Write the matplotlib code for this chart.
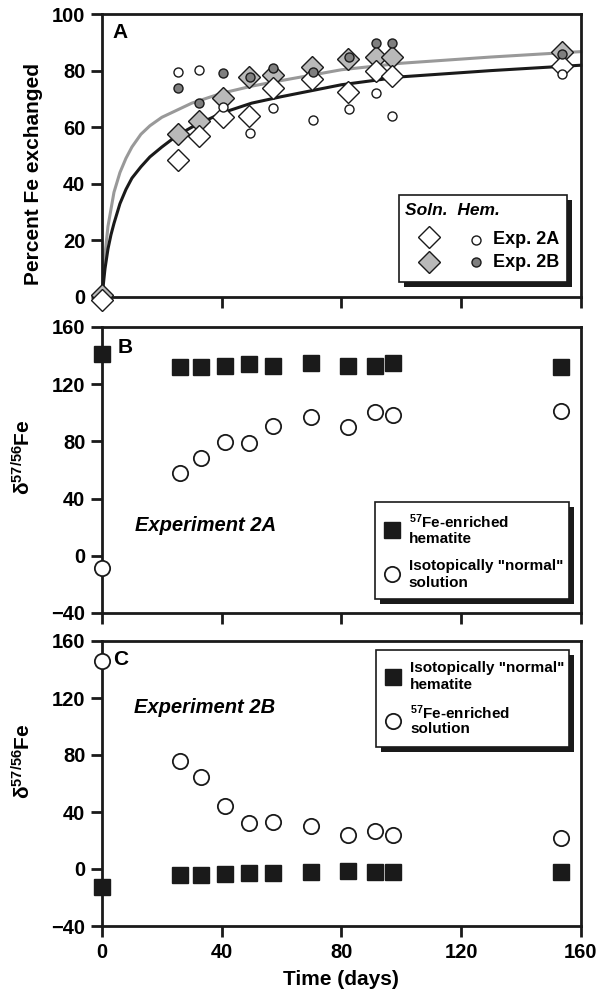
import matplotlib
matplotlib.use('Agg')
import matplotlib.pyplot as plt
from matplotlib.patches import Rectangle

plt.rcParams['font.family'] = ['Liberation Sans', 'DejaVu Sans']
plt.rcParams['font.weight'] = 'bold'
plt.rcParams['axes.labelweight'] = 'bold'
plt.rcParams['mathtext.fontset'] = 'custom'
plt.rcParams['mathtext.rm'] = 'Liberation Sans'
plt.rcParams['mathtext.bf'] = 'Liberation Sans:bold'
plt.rcParams['mathtext.it'] = 'Liberation Sans:bold:italic'
plt.rcParams['mathtext.default'] = 'bf'

# --- panel A: percent Fe exchanged ---
t_a = [0, 25.3, 32.5, 40.6, 49, 57.2, 70.2, 82.2, 91.4, 97, 153.8]
soln_2a = [-1, 48.5, 57, 63.7, 64, 73.7, 76.9, 72.6, 80, 78.1, 81.7]
soln_2b = [0.6, 57.6, 62.3, 70.4, 77.9, 78.5, 81.4, 84, 84.7, 84.7, 86.4]
t_hem = [25.3, 32.3, 40.6, 49.3, 57.2, 70.4, 82.5, 91.4, 97, 153.8]
hem_2a = [79.6, 80.2, 67.3, 57.8, 66.9, 62.5, 66.3, 72.2, 64, 78.8]
hem_2b = [74, 68.7, 79, 77.9, 81, 79.6, 84.7, 89.7, 89.9, 85.9]

# fitted curves
t_fit = [0, 1, 2, 3, 4, 6, 8, 10, 13, 16, 20, 25, 30, 40, 50, 60, 80, 100, 130, 160]
fit_2a = [0, 10, 17, 22, 26, 33, 38, 42, 46, 49.5, 53, 57, 60, 65, 68.5, 70.8, 75, 77.8, 80, 81.9]
fit_2b = [0, 15, 25, 31, 37, 44, 49, 53, 57.5, 60.5, 63.5, 66, 68.5, 72, 74.5, 76.5, 80.3, 82.6, 84.8, 86.7]

# --- panels B and C: delta 57/56 Fe ---
t_iso = [0, 26, 33, 41, 49, 57.3, 70, 82.2, 91.3, 97.4, 153.3]
hem_b = [141, 132, 132, 133, 134.2, 133, 134.9, 133, 133, 134.7, 132.3]
soln_b = [-8.8, 58.1, 68.1, 79.5, 79.1, 90.9, 97.4, 90, 100.7, 98.6, 101.6]
hem_c = [-12.4, -4.4, -4.4, -3.3, -2.6, -2.6, -2.3, -1.4, -2.1, -2.1, -2.1]
soln_c = [145.7, 76.1, 64.6, 44, 32.6, 32.8, 30.2, 24.1, 26.5, 23.7, 22]

x_ticks = [0, 40, 80, 120, 160]
DARK = '#1a1a1a'

fig = plt.figure(figsize=(6, 10), dpi=100)
axA = fig.add_axes([0.170, 0.703, 0.798, 0.283])
axB = fig.add_axes([0.170, 0.387, 0.798, 0.286])
axC = fig.add_axes([0.170, 0.074, 0.798, 0.285])


def style(ax, ylim, yticks):
    ax.set_xlim(0, 160)
    ax.set_ylim(*ylim)
    ax.set_xticks(x_ticks)
    ax.set_yticks(yticks)
    for s in ax.spines.values():
        s.set_linewidth(2)
        s.set_color(DARK)
    ax.tick_params(direction='out', length=8, width=2, color=DARK,
                   labelsize=14.5, pad=4, top=False, right=False)


def shadow_box(ax, x0, y0, x1, y1, h_px):
    sx, sy = 5 / 479, 5 / h_px
    ax.add_patch(Rectangle((x0 + sx, y0 - sy), x1 - x0, y1 - y0, transform=ax.transAxes,
                           fc=DARK, ec='none', zorder=8, clip_on=False))
    ax.add_patch(Rectangle((x0, y0), x1 - x0, y1 - y0, transform=ax.transAxes,
                           fc='white', ec=DARK, lw=1.2, zorder=9, clip_on=False))


# ---------------- A ----------------
ax = axA
style(ax, (0, 100), [0, 20, 40, 60, 80, 100])
ax.set_xticklabels([])
ax.plot(t_fit, fit_2b, color='#999999', lw=2.2, zorder=2, clip_on=False)
ax.plot(t_fit, fit_2a, color=DARK, lw=2.2, zorder=2, clip_on=False)
ax.plot(t_a, soln_2b, 'D', ms=11, mfc='#b9b9b9', mec=DARK, mew=1, ls='none', zorder=4, clip_on=False)
ax.plot(t_a, soln_2a, 'D', ms=11, mfc='white', mec=DARK, mew=1, ls='none', zorder=4, clip_on=False)
ax.plot(t_hem, hem_2a, 'o', ms=6.5, mfc='white', mec=DARK, mew=1, ls='none', zorder=5)
ax.plot(t_hem, hem_2b, 'o', ms=6.5, mfc='#7f7f7f', mec=DARK, mew=1, ls='none', zorder=5)
ax.text(0.022, 0.936, 'A', transform=ax.transAxes, fontsize=15, ha='left', va='center')
ax.set_ylabel('Percent Fe exchanged', fontsize=15, va='center')
ax.yaxis.set_label_coords(-0.144, 0.435)

shadow_box(ax, 0.620, 0.053, 0.971, 0.360, 283)
ax.text(0.633, 0.304, 'Soln.  Hem.', transform=ax.transAxes, fontsize=12.5,
        style='italic', ha='left', va='center', zorder=10)
ax.plot([0.683], [0.211], 'D', ms=11, mfc='white', mec=DARK, mew=1, transform=ax.transAxes, zorder=10, clip_on=False)
ax.plot([0.683], [0.125], 'D', ms=11, mfc='#b9b9b9', mec=DARK, mew=1, transform=ax.transAxes, zorder=10, clip_on=False)
ax.plot([0.782], [0.201], 'o', ms=6.5, mfc='white', mec=DARK, mew=1, transform=ax.transAxes, zorder=10, clip_on=False)
ax.plot([0.782], [0.123], 'o', ms=6.5, mfc='#7f7f7f', mec=DARK, mew=1, transform=ax.transAxes, zorder=10, clip_on=False)
ax.text(0.816, 0.203, 'Exp. 2A', transform=ax.transAxes, fontsize=13, ha='left', va='center', zorder=10)
ax.text(0.816, 0.123, 'Exp. 2B', transform=ax.transAxes, fontsize=13, ha='left', va='center', zorder=10)

delta_label = r'$\mathrm{\delta}^{57/56}$Fe'


def iso_legend(ax, box, sq_pos, circ_pos, sq_lines, circ_lines):
    shadow_box(ax, *box, 285)
    ax.plot([sq_pos[0]], [sq_pos[1]], 's', ms=12, mfc=DARK, mec=DARK, transform=ax.transAxes, zorder=10, clip_on=False)
    ax.plot([circ_pos[0]], [circ_pos[1]], 'o', ms=11, mfc='white', mec=DARK, mew=1.3,
            transform=ax.transAxes, zorder=10, clip_on=False)
    for pos, lines in ((sq_pos, sq_lines), (circ_pos, circ_lines)):
        ax.text(pos[0] + 0.036, pos[1] + 0.030, lines[0], transform=ax.transAxes,
                fontsize=11, ha='left', va='center', zorder=10)
        ax.text(pos[0] + 0.036, pos[1] - 0.030, lines[1], transform=ax.transAxes,
                fontsize=11, ha='left', va='center', zorder=10)


# ---------------- B ----------------
ax = axB
style(ax, (-40, 160), [-40, 0, 40, 80, 120, 160])
ax.set_xticklabels([])
ax.plot(t_iso, hem_b, 's', ms=12, mfc=DARK, mec=DARK, ls='none', zorder=5, clip_on=False)
ax.plot(t_iso, soln_b, 'o', ms=11, mfc='white', mec=DARK, mew=1.3, ls='none', zorder=5, clip_on=False)
ax.text(0.033, 0.928, 'B', transform=ax.transAxes, fontsize=15, ha='left', va='center')
ax.text(0.069, 0.305, 'Experiment 2A', transform=ax.transAxes, fontsize=14.5,
        style='italic', ha='left', va='center')
ax.set_ylabel(delta_label, fontsize=15, va='center')
ax.yaxis.set_label_coords(-0.165, 0.545)
iso_legend(ax, (0.571, 0.049, 0.975, 0.388), (0.605, 0.289), (0.605, 0.136),
           (r'$^{57}$Fe-enriched', 'hematite'), ('Isotopically "normal"', 'solution'))

# ---------------- C ----------------
ax = axC
style(ax, (-40, 160), [-40, 0, 40, 80, 120, 160])
ax.plot(t_iso, hem_c, 's', ms=12, mfc=DARK, mec=DARK, ls='none', zorder=5, clip_on=False)
ax.plot(t_iso, soln_c, 'o', ms=11, mfc='white', mec=DARK, mew=1.3, ls='none', zorder=5, clip_on=False)
ax.text(0.023, 0.936, 'C', transform=ax.transAxes, fontsize=15, ha='left', va='center')
ax.text(0.067, 0.767, 'Experiment 2B', transform=ax.transAxes, fontsize=14.5,
        style='italic', ha='left', va='center')
ax.set_ylabel(delta_label, fontsize=15, va='center')
ax.yaxis.set_label_coords(-0.165, 0.579)
ax.set_xlabel('Time (days)', fontsize=15, labelpad=6)
iso_legend(ax, (0.573, 0.628, 0.976, 0.970), (0.608, 0.874), (0.608, 0.720),
           ('Isotopically "normal"', 'hematite'), (r'$^{57}$Fe-enriched', 'solution'))

fig.savefig('out.png', dpi=100)
